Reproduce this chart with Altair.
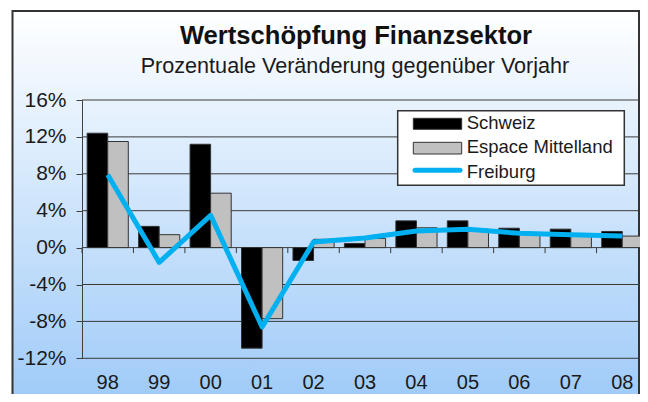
import altair as alt
import pandas as pd

# ---- data ----
years = ["98", "99", "00", "01", "02", "03", "04", "05", "06", "07", "08"]
schweiz = [12.4, 2.3, 11.2, -10.9, -1.4, 0.45, 2.9, 2.9, 2.1, 2.0, 1.75]
espace = [11.5, 1.4, 5.9, -7.7, 0.9, 1.0, 2.15, 2.0, 1.6, 1.35, 1.25]
freiburg = [7.9, -1.6, 3.5, -8.6, 0.6, 1.05, 1.8, 2.0, 1.55, 1.4, 1.25]
series_names = ["Schweiz", "Espace Mittelland", "Freiburg"]
y_ticks = [-12, -8, -4, 0, 4, 8, 12, 16]
title_text = "Wertschöpfung Finanzsektor"
subtitle_text = "Prozentuale Veränderung gegenüber Vorjahr"

FONT = "Liberation Sans"
W, H = 558, 258.3          # visible plot area (canvas must fit the 632x386 page)
BAND_RANGE = 566           # full category range (last bar slightly cut like the reference)

bars_df = pd.DataFrame({
    "year": years * 2,
    "series": [series_names[0]] * len(years) + [series_names[1]] * len(years),
    "value": schweiz + espace,
})
line_df = pd.DataFrame({"year": years, "value": freiburg})
grid_df = pd.DataFrame({"value": y_ticks})
one = pd.DataFrame({"k": [0]})

x_scale = alt.Scale(domain=years, range=[0, BAND_RANGE], paddingInner=0, paddingOuter=0)
x_axis = alt.Axis(title=None, domain=False, ticks=False, tickSize=0, labelAngle=0,
                  labelFontSize=20, labelFont=FONT, labelColor="#1a1a1a",
                  labelPadding=30.5, labelBaseline="alphabetic", zindex=1)
y_scale = alt.Scale(domain=[-12, 16], nice=False, zero=False)
y_axis = alt.Axis(title=None, values=y_ticks, labelExpr="datum.value + '%'", grid=False,
                  labelOverlap=False, labelBound=False, labelFlush=False,
                  domainColor="#404040", tickColor="#404040", tickSize=6,
                  labelPadding=10, labelFontSize=21, labelFont=FONT,
                  labelColor="#1a1a1a", zindex=1)


def X(**kw):
    return alt.X("year:N", sort=years, scale=x_scale, axis=x_axis, **kw)


def Y(field="value:Q"):
    return alt.Y(field, scale=y_scale, axis=y_axis)


gradient = alt.LinearGradient(
    gradient="linear", x1=0, x2=0, y1=0, y2=1,
    stops=[alt.GradientStop(color="#ffffff", offset=0),
           alt.GradientStop(color="#9ac8f8", offset=1)],
)

background = alt.Chart(one).mark_rect(fill=gradient, stroke="#333333", strokeWidth=2).encode(
    x=alt.value(-69.5), x2=alt.value(557), y=alt.value(-89), y2=alt.value(320)
)

grid = alt.Chart(grid_df).mark_rule(color="#3a3a3a", strokeWidth=1).encode(
    y=Y(), x=alt.value(0), x2=alt.value(BAND_RANGE)
)

ticks = alt.Chart(line_df).mark_rule(color="#3a3a3a", strokeWidth=1).encode(
    x=X(bandPosition=0),
    y=alt.Y(datum=0, type="quantitative", scale=y_scale, axis=y_axis),
    y2=alt.Y2(datum=-0.6),
)

bars = alt.Chart(bars_df).mark_bar(stroke="#333333", strokeWidth=1).encode(
    x=X(),
    xOffset=alt.XOffset("series:N", sort=series_names[:2],
                        scale=alt.Scale(domain=series_names[:2], paddingInner=0, paddingOuter=0.25)),
    y=Y(),
    color=alt.Color("series:N", scale=alt.Scale(domain=series_names[:2], range=["#000000", "#c0c0c0"]),
                    legend=None),
)

line = alt.Chart(line_df).mark_line(color="#00b0f0", strokeWidth=5, strokeJoin="round").encode(
    x=X(), y=Y()
)

# ---- legend (drawn) ----
leg_box = alt.Chart(one).mark_rect(fill="white", stroke="#333333", strokeWidth=1.5).encode(
    x=alt.value(315.7), x2=alt.value(542.3), y=alt.value(10.7), y2=alt.value(85.3)
)
leg_sw1 = alt.Chart(one).mark_rect(fill="#000000", stroke="#333333", strokeWidth=1).encode(
    x=alt.value(331.3), x2=alt.value(379.7), y=alt.value(18.3), y2=alt.value(29.3)
)
leg_sw2 = alt.Chart(one).mark_rect(fill="#c0c0c0", stroke="#333333", strokeWidth=1).encode(
    x=alt.value(331.3), x2=alt.value(379.7), y=alt.value(42.3), y2=alt.value(54)
)
leg_sw3 = alt.Chart(one).mark_rule(color="#00b0f0", strokeWidth=5, strokeCap="round").encode(
    x=alt.value(333), x2=alt.value(378), y=alt.value(70.3)
)
leg_texts = [
    alt.Chart(one).mark_text(text=name, align="left", baseline="alphabetic", font=FONT,
                             fontSize=18.5, color="#1a1a1a").encode(x=alt.value(384.7), y=alt.value(yy))
    for name, yy in zip(series_names, [29, 53.3, 77.5])
]

title = alt.Chart(one).mark_text(text=title_text, align="center", baseline="alphabetic", font=FONT,
                                 fontSize=25.6, fontWeight="bold", color="#111111").encode(
    x=alt.value(274), y=alt.value(-56.5)
)
subtitle = alt.Chart(one).mark_text(text=subtitle_text, align="center", baseline="alphabetic", font=FONT,
                                    fontSize=21.6, color="#1a1a1a").encode(
    x=alt.value(273), y=alt.value(-27.3)
)

chart = alt.layer(
    background, grid, ticks, bars, line, leg_box, leg_sw1, leg_sw2, leg_sw3, *leg_texts, title, subtitle
).properties(
    width=W, height=H, autosize="none",
    padding={"left": 74, "top": 92, "right": 0, "bottom": 35.7},
).configure_view(strokeWidth=0).configure(background="white").configure_axisY(labelOverlap=False)

chart.save("out.html", embed_options={"renderer": "svg", "actions": False})
